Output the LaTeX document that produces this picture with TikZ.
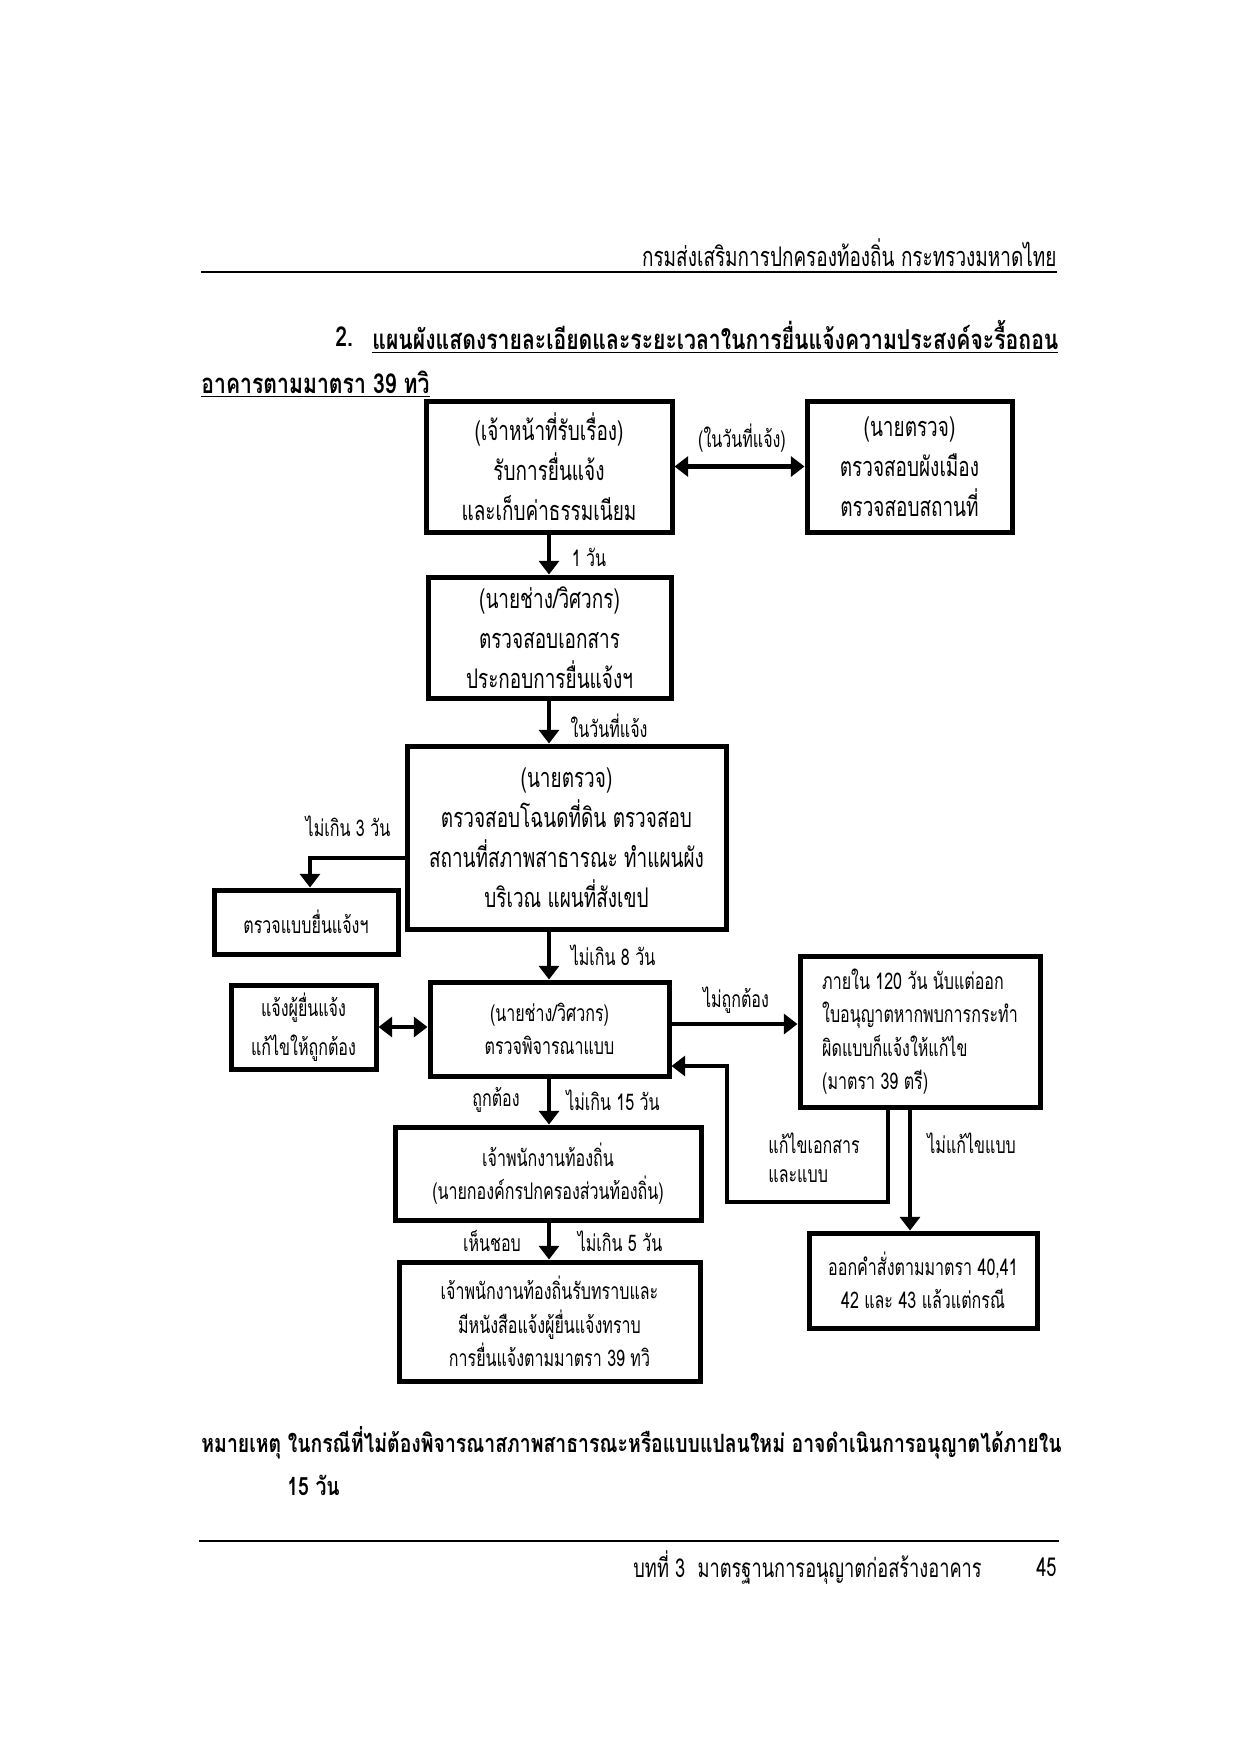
\documentclass[tikz,border=0pt]{standalone}
\usepackage{fontspec}
\usetikzlibrary{arrows.meta,calc}
\newfontfamily\thai[Script=Thai,FakeStretch=0.7]{Loma}
\newfontfamily\thaib[Script=Thai,FakeStretch=0.77]{Loma}
\tikzset{
  every node/.style={inner sep=0pt},
  sz/.style 2 args={minimum width=#1*0.48pt, minimum height=#2*0.48pt},
  box/.style={draw, line width=2.4pt, align=center},
  big/.style={font=\thai\fontsize{13}{19.2}\selectfont},
  small/.style={font=\thai\fontsize{11}{16}\selectfont},
  lbl/.style={font=\thai\fontsize{11}{16}\selectfont},
  arr/.style={line width=2.2pt, -{Triangle[length=6.5pt,width=9.5pt]}},
  darr/.style={line width=2.2pt, {Triangle[length=6.5pt,width=9.5pt]}-{Triangle[length=6.5pt,width=9.5pt]}},
  rule/.style={line width=1pt},
  page/.style={font=\thai\fontsize{12.5}{18}\selectfont},
  hdrfont/.style={font=\thai\fontsize{13}{18}\selectfont},
  titleb/.style={font=\thaib\bfseries\fontsize{13.2}{18}\selectfont},
  noteb/.style={font=\thaib\bfseries\fontsize{12.1}{18}\selectfont},
}
\begin{document}
\begin{tikzpicture}[x=0.48pt,y=-0.48pt]
\useasboundingbox (0,0) rectangle (1240,1754);
\fill[white] (0,0) rectangle (1240,1754);

% header
\node[hdrfont, anchor=east] (hdr) at (1057,253) {กรมส่งเสริมการปกครองท้องถิ่น กระทรวงมหาดไทย};
\draw[rule] (201,272) -- (1057,272);

% title
\node[titleb, anchor=west] (t1) at (335,337) {2.};
\node[titleb, anchor=west] (t2) at (372,337) {\underline{แผนผังแสดงรายละเอียดและระยะเวลาในการยื่นแจ้งความประสงค์จะรื้อถอน}};
\node[titleb, anchor=west] (t3) at (201,384) {\underline{อาคารตามมาตรา 39 ทวิ}};

% boxes
\node[box, big, sz={246}{131}] (A) at (549,466.5) {(เจ้าหน้าที่รับเรื่อง)\\รับการยื่นแจ้ง\\และเก็บค่าธรรมเนียม};
\node[box, big, sz={205}{131}] (B) at (909.5,466.5) {(นายตรวจ)\\ตรวจสอบผังเมือง\\ตรวจสอบสถานที่};
\node[box, big, sz={243}{121}] (C) at (549.5,637.5) {(นายช่าง/วิศวกร)\\ตรวจสอบเอกสาร\\ประกอบการยื่นแจ้งฯ};
\node[box, big, sz={319}{183}] (D) at (566.5,837.5) {(นายตรวจ)\\ตรวจสอบโฉนดที่ดิน ตรวจสอบ\\สถานที่สภาพสาธารณะ ทำแผนผัง\\บริเวณ แผนที่สังเขป};
\node[box, small, sz={184}{64}] (E) at (306,922) {ตรวจแบบยื่นแจ้งฯ};
\node[box, small, sz={239}{94}] (F) at (549.5,1029) {(นายช่าง/วิศวกร)\\ตรวจพิจารณาแบบ};
\node[box, font=\thai\fontsize{11}{18.7}\selectfont, sz={145}{84}] (G) at (303.5,1027) {แจ้งผู้ยื่นแจ้ง\\แก้ไขให้ถูกต้อง};
\node[box, small, sz={240}{151}, align=left] (H) at (920,1031.5) {ภายใน 120 วัน นับแต่ออก\\ใบอนุญาตหากพบการกระทำ\\ผิดแบบก็แจ้งให้แก้ไข\\(มาตรา 39 ตรี)};
\node[box, small, sz={228}{95}] (I) at (923,1280.5) {ออกคำสั่งตามมาตรา 40,41\\42 และ 43 แล้วแต่กรณี};
\node[box, small, sz={306}{93}] (J) at (548,1173.5) {เจ้าพนักงานท้องถิ่น\\(นายกองค์กรปกครองส่วนท้องถิ่น)};
\node[box, small, sz={301}{119}] (K) at (549.5,1321.5) {เจ้าพนักงานท้องถิ่นรับทราบและ\\มีหนังสือแจ้งผู้ยื่นแจ้งทราบ\\การยื่นแจ้งตามมาตรา 39 ทวิ};

% connectors
\draw[darr] (A.east) -- (B.west);
\node[lbl] (l1) at (742,438) {(ในวันที่แจ้ง)};
\draw[arr] (A.south) -- (A.south |- C.north);
\node[lbl] (l2) at (589,557) {1 วัน};
\draw[arr] (A.south |- C.south) -- (A.south |- D.north);
\node[lbl] (l3) at (609,726) {ในวันที่แจ้ง};
\coordinate (dl) at (310,858);
\draw[arr] (D.west |- dl) -- (dl) -- (dl |- E.north);
\node[lbl] (l4) at (348,826) {ไม่เกิน 3 วัน};
\draw[arr] (A.south |- D.south) -- (A.south |- F.north);
\node[lbl] (l5) at (613,955) {ไม่เกิน 8 วัน};
\draw[darr] (G.east) -- (G.east -| F.west);
\coordinate (fh) at (700,1024);
\draw[arr] (F.east |- fh) -- (H.west |- fh);
\node[lbl] (l6) at (736,1000) {ไม่ถูกต้อง};
\coordinate (r1) at (888,1202);
\coordinate (r2) at (727,1066);
\draw[arr] (H.south -| r1) -- (r1) -| (r2) -- (F.east |- r2);
\node[lbl, anchor=west] (l7) at (768,1143) {แก้ไขเอกสาร};
\node[lbl, anchor=west] (l8) at (768,1176) {และแบบ};
\coordinate (hi) at (910,1150);
\draw[arr] (H.south -| hi) -- (I.north -| hi);
\node[lbl, anchor=west] (l9) at (927,1143) {ไม่แก้ไขแบบ};
\draw[arr] (A.south |- F.south) -- (A.south |- J.north);
\node[lbl] (l10) at (496,1100) {ถูกต้อง};
\node[lbl] (l11) at (613,1100) {ไม่เกิน 15 วัน};
\draw[arr] (A.south |- J.south) -- (A.south |- K.north);
\node[lbl] (l12) at (492,1241) {เห็นชอบ};
\node[lbl] (l13) at (620,1241) {ไม่เกิน 5 วัน};

% note
\node[noteb, anchor=west] (n1) at (201,1443) {หมายเหตุ ในกรณีที่ไม่ต้องพิจารณาสภาพสาธารณะหรือแบบแปลนใหม่ อาจดำเนินการอนุญาตได้ภายใน};
\node[noteb, anchor=west] (n2) at (287,1485) {15 วัน};

% footer
\draw[rule] (199,1541) -- (1059,1541);
\node[page, anchor=west] (f1) at (633,1567) {บทที่ 3 \ มาตรฐานการอนุญาตก่อสร้างอาคาร};
\node[page, anchor=east] (f2) at (1057,1567) {45};
\end{tikzpicture}
\end{document}
